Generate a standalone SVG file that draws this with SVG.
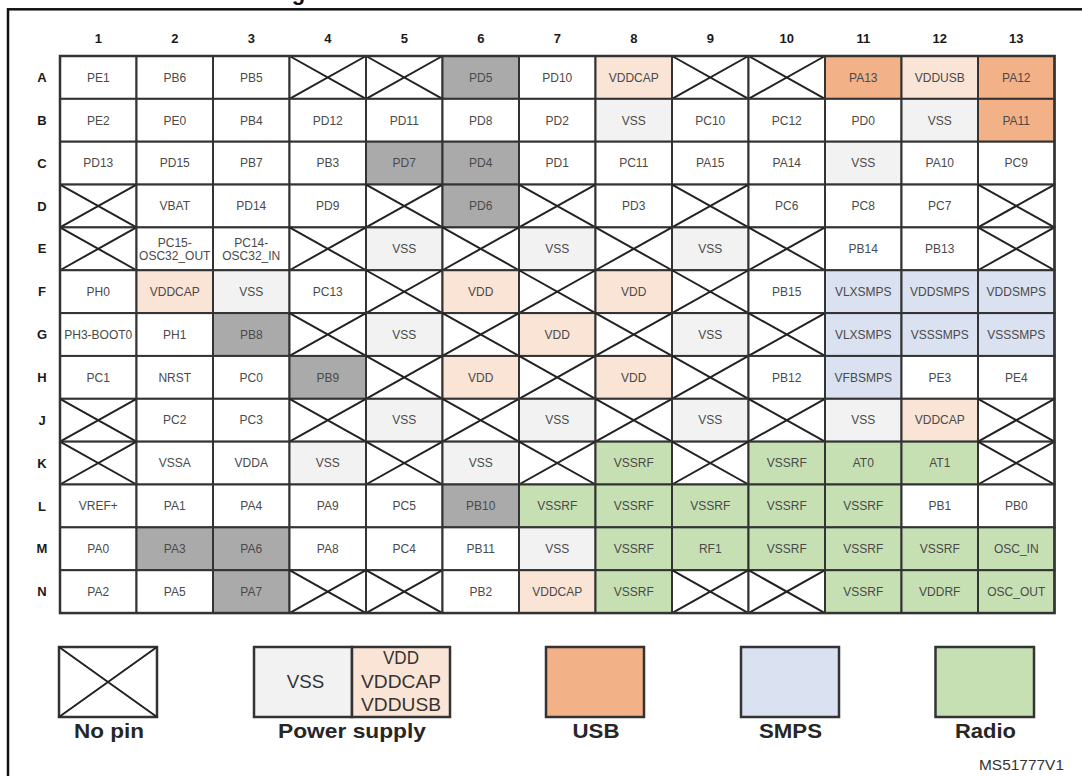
<svg xmlns="http://www.w3.org/2000/svg" xmlns:xlink="http://www.w3.org/1999/xlink" width="1082" height="776" viewBox="0 0 1082 776">
<style>
text{font-family:"Liberation Sans",Arial,sans-serif}
.cell rect{stroke:#333;stroke-width:2}
.cell text{font-size:12px;fill:#4a4a4a;text-anchor:middle}
.w{fill:#fff}.g{fill:#f2f2f2}.p{fill:#fae4d6}.u{fill:#f3b187}.s{fill:#dae1f0}.r{fill:#c6e0b4}.d{fill:#aaaaaa}
.xl{stroke:#222;stroke-width:2;fill:none}
.hd{font-size:13px;font-weight:bold;fill:#1a1a1a;text-anchor:middle}
.lg rect{stroke:#333;stroke-width:2.5}
.lgl{font-size:21px;font-weight:bold;fill:#262626;text-anchor:middle}
.lgt{font-size:17.5px;fill:#333;text-anchor:middle}
</style>
<defs>
<g id="xc"><rect class="w" width="76.5" height="42.85" style="stroke:#333;stroke-width:2"/><path class="xl" d="M0,0L76.5,42.85M76.5,0L0,42.85"/></g>
</defs>
<rect x="0" y="0" width="1082" height="776" fill="#fff"/>
<text x="298.5" y="-0.5" font-size="22" font-weight="bold" text-anchor="middle" fill="#111">g</text>
<rect x="8" y="9.3" width="1100" height="800" fill="none" stroke="#111" stroke-width="2.5"/>
<g id="headers">
<text class="hd" x="98.25" y="43">1</text><text class="hd" x="174.75" y="43">2</text><text class="hd" x="251.25" y="43">3</text><text class="hd" x="327.75" y="43">4</text><text class="hd" x="404.25" y="43">5</text><text class="hd" x="480.75" y="43">6</text><text class="hd" x="557.25" y="43">7</text><text class="hd" x="633.75" y="43">8</text><text class="hd" x="710.25" y="43">9</text><text class="hd" x="786.75" y="43">10</text><text class="hd" x="863.25" y="43">11</text><text class="hd" x="939.75" y="43">12</text><text class="hd" x="1016.25" y="43">13</text>
<text class="hd" x="42" y="82">A</text><text class="hd" x="42" y="124.9">B</text><text class="hd" x="42" y="167.7">C</text><text class="hd" x="42" y="210.6">D</text><text class="hd" x="42" y="253.4">E</text><text class="hd" x="42" y="296.3">F</text><text class="hd" x="42" y="339.1">G</text><text class="hd" x="42" y="382">H</text><text class="hd" x="42" y="424.8">J</text><text class="hd" x="42" y="467.7">K</text><text class="hd" x="42" y="510.5">L</text><text class="hd" x="42" y="553.4">M</text><text class="hd" x="42" y="596.2">N</text>
</g>
<g id="rowA">
<g id="A1" class="cell" transform="translate(60,56)"><rect class="w" width="76.5" height="42.85"/><text x="38.25" y="25.7">PE1</text></g>
<g id="A2" class="cell" transform="translate(136.5,56)"><rect class="w" width="76.5" height="42.85"/><text x="38.25" y="25.7">PB6</text></g>
<g id="A3" class="cell" transform="translate(213,56)"><rect class="w" width="76.5" height="42.85"/><text x="38.25" y="25.7">PB5</text></g>
<g id="A4" class="cell" transform="translate(289.5,56)"><use href="#xc"/></g>
<g id="A5" class="cell" transform="translate(366,56)"><use href="#xc"/></g>
<g id="A6" class="cell" transform="translate(442.5,56)"><rect class="d" width="76.5" height="42.85"/><text x="38.25" y="25.7">PD5</text></g>
<g id="A7" class="cell" transform="translate(519,56)"><rect class="w" width="76.5" height="42.85"/><text x="38.25" y="25.7">PD10</text></g>
<g id="A8" class="cell" transform="translate(595.5,56)"><rect class="p" width="76.5" height="42.85"/><text x="38.25" y="25.7">VDDCAP</text></g>
<g id="A9" class="cell" transform="translate(672,56)"><use href="#xc"/></g>
<g id="A10" class="cell" transform="translate(748.5,56)"><use href="#xc"/></g>
<g id="A11" class="cell" transform="translate(825,56)"><rect class="u" width="76.5" height="42.85"/><text x="38.25" y="25.7">PA13</text></g>
<g id="A12" class="cell" transform="translate(901.5,56)"><rect class="p" width="76.5" height="42.85"/><text x="38.25" y="25.7">VDDUSB</text></g>
<g id="A13" class="cell" transform="translate(978,56)"><rect class="u" width="76.5" height="42.85"/><text x="38.25" y="25.7">PA12</text></g>
</g>
<g id="rowB">
<g id="B1" class="cell" transform="translate(60,98.85)"><rect class="w" width="76.5" height="42.85"/><text x="38.25" y="25.7">PE2</text></g>
<g id="B2" class="cell" transform="translate(136.5,98.85)"><rect class="w" width="76.5" height="42.85"/><text x="38.25" y="25.7">PE0</text></g>
<g id="B3" class="cell" transform="translate(213,98.85)"><rect class="w" width="76.5" height="42.85"/><text x="38.25" y="25.7">PB4</text></g>
<g id="B4" class="cell" transform="translate(289.5,98.85)"><rect class="w" width="76.5" height="42.85"/><text x="38.25" y="25.7">PD12</text></g>
<g id="B5" class="cell" transform="translate(366,98.85)"><rect class="w" width="76.5" height="42.85"/><text x="38.25" y="25.7">PD11</text></g>
<g id="B6" class="cell" transform="translate(442.5,98.85)"><rect class="w" width="76.5" height="42.85"/><text x="38.25" y="25.7">PD8</text></g>
<g id="B7" class="cell" transform="translate(519,98.85)"><rect class="w" width="76.5" height="42.85"/><text x="38.25" y="25.7">PD2</text></g>
<g id="B8" class="cell" transform="translate(595.5,98.85)"><rect class="g" width="76.5" height="42.85"/><text x="38.25" y="25.7">VSS</text></g>
<g id="B9" class="cell" transform="translate(672,98.85)"><rect class="w" width="76.5" height="42.85"/><text x="38.25" y="25.7">PC10</text></g>
<g id="B10" class="cell" transform="translate(748.5,98.85)"><rect class="w" width="76.5" height="42.85"/><text x="38.25" y="25.7">PC12</text></g>
<g id="B11" class="cell" transform="translate(825,98.85)"><rect class="w" width="76.5" height="42.85"/><text x="38.25" y="25.7">PD0</text></g>
<g id="B12" class="cell" transform="translate(901.5,98.85)"><rect class="g" width="76.5" height="42.85"/><text x="38.25" y="25.7">VSS</text></g>
<g id="B13" class="cell" transform="translate(978,98.85)"><rect class="u" width="76.5" height="42.85"/><text x="38.25" y="25.7">PA11</text></g>
</g>
<g id="rowC">
<g id="C1" class="cell" transform="translate(60,141.7)"><rect class="w" width="76.5" height="42.85"/><text x="38.25" y="25.7">PD13</text></g>
<g id="C2" class="cell" transform="translate(136.5,141.7)"><rect class="w" width="76.5" height="42.85"/><text x="38.25" y="25.7">PD15</text></g>
<g id="C3" class="cell" transform="translate(213,141.7)"><rect class="w" width="76.5" height="42.85"/><text x="38.25" y="25.7">PB7</text></g>
<g id="C4" class="cell" transform="translate(289.5,141.7)"><rect class="w" width="76.5" height="42.85"/><text x="38.25" y="25.7">PB3</text></g>
<g id="C5" class="cell" transform="translate(366,141.7)"><rect class="d" width="76.5" height="42.85"/><text x="38.25" y="25.7">PD7</text></g>
<g id="C6" class="cell" transform="translate(442.5,141.7)"><rect class="d" width="76.5" height="42.85"/><text x="38.25" y="25.7">PD4</text></g>
<g id="C7" class="cell" transform="translate(519,141.7)"><rect class="w" width="76.5" height="42.85"/><text x="38.25" y="25.7">PD1</text></g>
<g id="C8" class="cell" transform="translate(595.5,141.7)"><rect class="w" width="76.5" height="42.85"/><text x="38.25" y="25.7">PC11</text></g>
<g id="C9" class="cell" transform="translate(672,141.7)"><rect class="w" width="76.5" height="42.85"/><text x="38.25" y="25.7">PA15</text></g>
<g id="C10" class="cell" transform="translate(748.5,141.7)"><rect class="w" width="76.5" height="42.85"/><text x="38.25" y="25.7">PA14</text></g>
<g id="C11" class="cell" transform="translate(825,141.7)"><rect class="g" width="76.5" height="42.85"/><text x="38.25" y="25.7">VSS</text></g>
<g id="C12" class="cell" transform="translate(901.5,141.7)"><rect class="w" width="76.5" height="42.85"/><text x="38.25" y="25.7">PA10</text></g>
<g id="C13" class="cell" transform="translate(978,141.7)"><rect class="w" width="76.5" height="42.85"/><text x="38.25" y="25.7">PC9</text></g>
</g>
<g id="rowD">
<g id="D1" class="cell" transform="translate(60,184.55)"><use href="#xc"/></g>
<g id="D2" class="cell" transform="translate(136.5,184.55)"><rect class="w" width="76.5" height="42.85"/><text x="38.25" y="25.7">VBAT</text></g>
<g id="D3" class="cell" transform="translate(213,184.55)"><rect class="w" width="76.5" height="42.85"/><text x="38.25" y="25.7">PD14</text></g>
<g id="D4" class="cell" transform="translate(289.5,184.55)"><rect class="w" width="76.5" height="42.85"/><text x="38.25" y="25.7">PD9</text></g>
<g id="D5" class="cell" transform="translate(366,184.55)"><use href="#xc"/></g>
<g id="D6" class="cell" transform="translate(442.5,184.55)"><rect class="d" width="76.5" height="42.85"/><text x="38.25" y="25.7">PD6</text></g>
<g id="D7" class="cell" transform="translate(519,184.55)"><use href="#xc"/></g>
<g id="D8" class="cell" transform="translate(595.5,184.55)"><rect class="w" width="76.5" height="42.85"/><text x="38.25" y="25.7">PD3</text></g>
<g id="D9" class="cell" transform="translate(672,184.55)"><use href="#xc"/></g>
<g id="D10" class="cell" transform="translate(748.5,184.55)"><rect class="w" width="76.5" height="42.85"/><text x="38.25" y="25.7">PC6</text></g>
<g id="D11" class="cell" transform="translate(825,184.55)"><rect class="w" width="76.5" height="42.85"/><text x="38.25" y="25.7">PC8</text></g>
<g id="D12" class="cell" transform="translate(901.5,184.55)"><rect class="w" width="76.5" height="42.85"/><text x="38.25" y="25.7">PC7</text></g>
<g id="D13" class="cell" transform="translate(978,184.55)"><use href="#xc"/></g>
</g>
<g id="rowE">
<g id="E1" class="cell" transform="translate(60,227.4)"><use href="#xc"/></g>
<g id="E2" class="cell" transform="translate(136.5,227.4)"><rect class="w" width="76.5" height="42.85"/><text x="38.25" y="19.3">PC15-</text><text x="38.25" y="32.3">OSC32_OUT</text></g>
<g id="E3" class="cell" transform="translate(213,227.4)"><rect class="w" width="76.5" height="42.85"/><text x="38.25" y="19.3">PC14-</text><text x="38.25" y="32.3">OSC32_IN</text></g>
<g id="E4" class="cell" transform="translate(289.5,227.4)"><use href="#xc"/></g>
<g id="E5" class="cell" transform="translate(366,227.4)"><rect class="g" width="76.5" height="42.85"/><text x="38.25" y="25.7">VSS</text></g>
<g id="E6" class="cell" transform="translate(442.5,227.4)"><use href="#xc"/></g>
<g id="E7" class="cell" transform="translate(519,227.4)"><rect class="g" width="76.5" height="42.85"/><text x="38.25" y="25.7">VSS</text></g>
<g id="E8" class="cell" transform="translate(595.5,227.4)"><use href="#xc"/></g>
<g id="E9" class="cell" transform="translate(672,227.4)"><rect class="g" width="76.5" height="42.85"/><text x="38.25" y="25.7">VSS</text></g>
<g id="E10" class="cell" transform="translate(748.5,227.4)"><use href="#xc"/></g>
<g id="E11" class="cell" transform="translate(825,227.4)"><rect class="w" width="76.5" height="42.85"/><text x="38.25" y="25.7">PB14</text></g>
<g id="E12" class="cell" transform="translate(901.5,227.4)"><rect class="w" width="76.5" height="42.85"/><text x="38.25" y="25.7">PB13</text></g>
<g id="E13" class="cell" transform="translate(978,227.4)"><use href="#xc"/></g>
</g>
<g id="rowF">
<g id="F1" class="cell" transform="translate(60,270.25)"><rect class="w" width="76.5" height="42.85"/><text x="38.25" y="25.7">PH0</text></g>
<g id="F2" class="cell" transform="translate(136.5,270.25)"><rect class="p" width="76.5" height="42.85"/><text x="38.25" y="25.7">VDDCAP</text></g>
<g id="F3" class="cell" transform="translate(213,270.25)"><rect class="g" width="76.5" height="42.85"/><text x="38.25" y="25.7">VSS</text></g>
<g id="F4" class="cell" transform="translate(289.5,270.25)"><rect class="w" width="76.5" height="42.85"/><text x="38.25" y="25.7">PC13</text></g>
<g id="F5" class="cell" transform="translate(366,270.25)"><use href="#xc"/></g>
<g id="F6" class="cell" transform="translate(442.5,270.25)"><rect class="p" width="76.5" height="42.85"/><text x="38.25" y="25.7">VDD</text></g>
<g id="F7" class="cell" transform="translate(519,270.25)"><use href="#xc"/></g>
<g id="F8" class="cell" transform="translate(595.5,270.25)"><rect class="p" width="76.5" height="42.85"/><text x="38.25" y="25.7">VDD</text></g>
<g id="F9" class="cell" transform="translate(672,270.25)"><use href="#xc"/></g>
<g id="F10" class="cell" transform="translate(748.5,270.25)"><rect class="w" width="76.5" height="42.85"/><text x="38.25" y="25.7">PB15</text></g>
<g id="F11" class="cell" transform="translate(825,270.25)"><rect class="s" width="76.5" height="42.85"/><text x="38.25" y="25.7">VLXSMPS</text></g>
<g id="F12" class="cell" transform="translate(901.5,270.25)"><rect class="s" width="76.5" height="42.85"/><text x="38.25" y="25.7">VDDSMPS</text></g>
<g id="F13" class="cell" transform="translate(978,270.25)"><rect class="s" width="76.5" height="42.85"/><text x="38.25" y="25.7">VDDSMPS</text></g>
</g>
<g id="rowG">
<g id="G1" class="cell" transform="translate(60,313.1)"><rect class="w" width="76.5" height="42.85"/><text x="38.25" y="25.7">PH3-BOOT0</text></g>
<g id="G2" class="cell" transform="translate(136.5,313.1)"><rect class="w" width="76.5" height="42.85"/><text x="38.25" y="25.7">PH1</text></g>
<g id="G3" class="cell" transform="translate(213,313.1)"><rect class="d" width="76.5" height="42.85"/><text x="38.25" y="25.7">PB8</text></g>
<g id="G4" class="cell" transform="translate(289.5,313.1)"><use href="#xc"/></g>
<g id="G5" class="cell" transform="translate(366,313.1)"><rect class="g" width="76.5" height="42.85"/><text x="38.25" y="25.7">VSS</text></g>
<g id="G6" class="cell" transform="translate(442.5,313.1)"><use href="#xc"/></g>
<g id="G7" class="cell" transform="translate(519,313.1)"><rect class="p" width="76.5" height="42.85"/><text x="38.25" y="25.7">VDD</text></g>
<g id="G8" class="cell" transform="translate(595.5,313.1)"><use href="#xc"/></g>
<g id="G9" class="cell" transform="translate(672,313.1)"><rect class="g" width="76.5" height="42.85"/><text x="38.25" y="25.7">VSS</text></g>
<g id="G10" class="cell" transform="translate(748.5,313.1)"><use href="#xc"/></g>
<g id="G11" class="cell" transform="translate(825,313.1)"><rect class="s" width="76.5" height="42.85"/><text x="38.25" y="25.7">VLXSMPS</text></g>
<g id="G12" class="cell" transform="translate(901.5,313.1)"><rect class="s" width="76.5" height="42.85"/><text x="38.25" y="25.7">VSSSMPS</text></g>
<g id="G13" class="cell" transform="translate(978,313.1)"><rect class="s" width="76.5" height="42.85"/><text x="38.25" y="25.7">VSSSMPS</text></g>
</g>
<g id="rowH">
<g id="H1" class="cell" transform="translate(60,355.95)"><rect class="w" width="76.5" height="42.85"/><text x="38.25" y="25.7">PC1</text></g>
<g id="H2" class="cell" transform="translate(136.5,355.95)"><rect class="w" width="76.5" height="42.85"/><text x="38.25" y="25.7">NRST</text></g>
<g id="H3" class="cell" transform="translate(213,355.95)"><rect class="w" width="76.5" height="42.85"/><text x="38.25" y="25.7">PC0</text></g>
<g id="H4" class="cell" transform="translate(289.5,355.95)"><rect class="d" width="76.5" height="42.85"/><text x="38.25" y="25.7">PB9</text></g>
<g id="H5" class="cell" transform="translate(366,355.95)"><use href="#xc"/></g>
<g id="H6" class="cell" transform="translate(442.5,355.95)"><rect class="p" width="76.5" height="42.85"/><text x="38.25" y="25.7">VDD</text></g>
<g id="H7" class="cell" transform="translate(519,355.95)"><use href="#xc"/></g>
<g id="H8" class="cell" transform="translate(595.5,355.95)"><rect class="p" width="76.5" height="42.85"/><text x="38.25" y="25.7">VDD</text></g>
<g id="H9" class="cell" transform="translate(672,355.95)"><use href="#xc"/></g>
<g id="H10" class="cell" transform="translate(748.5,355.95)"><rect class="w" width="76.5" height="42.85"/><text x="38.25" y="25.7">PB12</text></g>
<g id="H11" class="cell" transform="translate(825,355.95)"><rect class="s" width="76.5" height="42.85"/><text x="38.25" y="25.7">VFBSMPS</text></g>
<g id="H12" class="cell" transform="translate(901.5,355.95)"><rect class="w" width="76.5" height="42.85"/><text x="38.25" y="25.7">PE3</text></g>
<g id="H13" class="cell" transform="translate(978,355.95)"><rect class="w" width="76.5" height="42.85"/><text x="38.25" y="25.7">PE4</text></g>
</g>
<g id="rowJ">
<g id="J1" class="cell" transform="translate(60,398.8)"><use href="#xc"/></g>
<g id="J2" class="cell" transform="translate(136.5,398.8)"><rect class="w" width="76.5" height="42.85"/><text x="38.25" y="25.7">PC2</text></g>
<g id="J3" class="cell" transform="translate(213,398.8)"><rect class="w" width="76.5" height="42.85"/><text x="38.25" y="25.7">PC3</text></g>
<g id="J4" class="cell" transform="translate(289.5,398.8)"><use href="#xc"/></g>
<g id="J5" class="cell" transform="translate(366,398.8)"><rect class="g" width="76.5" height="42.85"/><text x="38.25" y="25.7">VSS</text></g>
<g id="J6" class="cell" transform="translate(442.5,398.8)"><use href="#xc"/></g>
<g id="J7" class="cell" transform="translate(519,398.8)"><rect class="g" width="76.5" height="42.85"/><text x="38.25" y="25.7">VSS</text></g>
<g id="J8" class="cell" transform="translate(595.5,398.8)"><use href="#xc"/></g>
<g id="J9" class="cell" transform="translate(672,398.8)"><rect class="g" width="76.5" height="42.85"/><text x="38.25" y="25.7">VSS</text></g>
<g id="J10" class="cell" transform="translate(748.5,398.8)"><use href="#xc"/></g>
<g id="J11" class="cell" transform="translate(825,398.8)"><rect class="g" width="76.5" height="42.85"/><text x="38.25" y="25.7">VSS</text></g>
<g id="J12" class="cell" transform="translate(901.5,398.8)"><rect class="p" width="76.5" height="42.85"/><text x="38.25" y="25.7">VDDCAP</text></g>
<g id="J13" class="cell" transform="translate(978,398.8)"><use href="#xc"/></g>
</g>
<g id="rowK">
<g id="K1" class="cell" transform="translate(60,441.65)"><use href="#xc"/></g>
<g id="K2" class="cell" transform="translate(136.5,441.65)"><rect class="w" width="76.5" height="42.85"/><text x="38.25" y="25.7">VSSA</text></g>
<g id="K3" class="cell" transform="translate(213,441.65)"><rect class="w" width="76.5" height="42.85"/><text x="38.25" y="25.7">VDDA</text></g>
<g id="K4" class="cell" transform="translate(289.5,441.65)"><rect class="g" width="76.5" height="42.85"/><text x="38.25" y="25.7">VSS</text></g>
<g id="K5" class="cell" transform="translate(366,441.65)"><use href="#xc"/></g>
<g id="K6" class="cell" transform="translate(442.5,441.65)"><rect class="g" width="76.5" height="42.85"/><text x="38.25" y="25.7">VSS</text></g>
<g id="K7" class="cell" transform="translate(519,441.65)"><use href="#xc"/></g>
<g id="K8" class="cell" transform="translate(595.5,441.65)"><rect class="r" width="76.5" height="42.85"/><text x="38.25" y="25.7">VSSRF</text></g>
<g id="K9" class="cell" transform="translate(672,441.65)"><use href="#xc"/></g>
<g id="K10" class="cell" transform="translate(748.5,441.65)"><rect class="r" width="76.5" height="42.85"/><text x="38.25" y="25.7">VSSRF</text></g>
<g id="K11" class="cell" transform="translate(825,441.65)"><rect class="r" width="76.5" height="42.85"/><text x="38.25" y="25.7">AT0</text></g>
<g id="K12" class="cell" transform="translate(901.5,441.65)"><rect class="r" width="76.5" height="42.85"/><text x="38.25" y="25.7">AT1</text></g>
<g id="K13" class="cell" transform="translate(978,441.65)"><use href="#xc"/></g>
</g>
<g id="rowL">
<g id="L1" class="cell" transform="translate(60,484.5)"><rect class="w" width="76.5" height="42.85"/><text x="38.25" y="25.7">VREF+</text></g>
<g id="L2" class="cell" transform="translate(136.5,484.5)"><rect class="w" width="76.5" height="42.85"/><text x="38.25" y="25.7">PA1</text></g>
<g id="L3" class="cell" transform="translate(213,484.5)"><rect class="w" width="76.5" height="42.85"/><text x="38.25" y="25.7">PA4</text></g>
<g id="L4" class="cell" transform="translate(289.5,484.5)"><rect class="w" width="76.5" height="42.85"/><text x="38.25" y="25.7">PA9</text></g>
<g id="L5" class="cell" transform="translate(366,484.5)"><rect class="w" width="76.5" height="42.85"/><text x="38.25" y="25.7">PC5</text></g>
<g id="L6" class="cell" transform="translate(442.5,484.5)"><rect class="d" width="76.5" height="42.85"/><text x="38.25" y="25.7">PB10</text></g>
<g id="L7" class="cell" transform="translate(519,484.5)"><rect class="r" width="76.5" height="42.85"/><text x="38.25" y="25.7">VSSRF</text></g>
<g id="L8" class="cell" transform="translate(595.5,484.5)"><rect class="r" width="76.5" height="42.85"/><text x="38.25" y="25.7">VSSRF</text></g>
<g id="L9" class="cell" transform="translate(672,484.5)"><rect class="r" width="76.5" height="42.85"/><text x="38.25" y="25.7">VSSRF</text></g>
<g id="L10" class="cell" transform="translate(748.5,484.5)"><rect class="r" width="76.5" height="42.85"/><text x="38.25" y="25.7">VSSRF</text></g>
<g id="L11" class="cell" transform="translate(825,484.5)"><rect class="r" width="76.5" height="42.85"/><text x="38.25" y="25.7">VSSRF</text></g>
<g id="L12" class="cell" transform="translate(901.5,484.5)"><rect class="w" width="76.5" height="42.85"/><text x="38.25" y="25.7">PB1</text></g>
<g id="L13" class="cell" transform="translate(978,484.5)"><rect class="w" width="76.5" height="42.85"/><text x="38.25" y="25.7">PB0</text></g>
</g>
<g id="rowM">
<g id="M1" class="cell" transform="translate(60,527.35)"><rect class="w" width="76.5" height="42.85"/><text x="38.25" y="25.7">PA0</text></g>
<g id="M2" class="cell" transform="translate(136.5,527.35)"><rect class="d" width="76.5" height="42.85"/><text x="38.25" y="25.7">PA3</text></g>
<g id="M3" class="cell" transform="translate(213,527.35)"><rect class="d" width="76.5" height="42.85"/><text x="38.25" y="25.7">PA6</text></g>
<g id="M4" class="cell" transform="translate(289.5,527.35)"><rect class="w" width="76.5" height="42.85"/><text x="38.25" y="25.7">PA8</text></g>
<g id="M5" class="cell" transform="translate(366,527.35)"><rect class="w" width="76.5" height="42.85"/><text x="38.25" y="25.7">PC4</text></g>
<g id="M6" class="cell" transform="translate(442.5,527.35)"><rect class="w" width="76.5" height="42.85"/><text x="38.25" y="25.7">PB11</text></g>
<g id="M7" class="cell" transform="translate(519,527.35)"><rect class="g" width="76.5" height="42.85"/><text x="38.25" y="25.7">VSS</text></g>
<g id="M8" class="cell" transform="translate(595.5,527.35)"><rect class="r" width="76.5" height="42.85"/><text x="38.25" y="25.7">VSSRF</text></g>
<g id="M9" class="cell" transform="translate(672,527.35)"><rect class="r" width="76.5" height="42.85"/><text x="38.25" y="25.7">RF1</text></g>
<g id="M10" class="cell" transform="translate(748.5,527.35)"><rect class="r" width="76.5" height="42.85"/><text x="38.25" y="25.7">VSSRF</text></g>
<g id="M11" class="cell" transform="translate(825,527.35)"><rect class="r" width="76.5" height="42.85"/><text x="38.25" y="25.7">VSSRF</text></g>
<g id="M12" class="cell" transform="translate(901.5,527.35)"><rect class="r" width="76.5" height="42.85"/><text x="38.25" y="25.7">VSSRF</text></g>
<g id="M13" class="cell" transform="translate(978,527.35)"><rect class="r" width="76.5" height="42.85"/><text x="38.25" y="25.7">OSC_IN</text></g>
</g>
<g id="rowN">
<g id="N1" class="cell" transform="translate(60,570.2)"><rect class="w" width="76.5" height="42.85"/><text x="38.25" y="25.7">PA2</text></g>
<g id="N2" class="cell" transform="translate(136.5,570.2)"><rect class="w" width="76.5" height="42.85"/><text x="38.25" y="25.7">PA5</text></g>
<g id="N3" class="cell" transform="translate(213,570.2)"><rect class="d" width="76.5" height="42.85"/><text x="38.25" y="25.7">PA7</text></g>
<g id="N4" class="cell" transform="translate(289.5,570.2)"><use href="#xc"/></g>
<g id="N5" class="cell" transform="translate(366,570.2)"><use href="#xc"/></g>
<g id="N6" class="cell" transform="translate(442.5,570.2)"><rect class="w" width="76.5" height="42.85"/><text x="38.25" y="25.7">PB2</text></g>
<g id="N7" class="cell" transform="translate(519,570.2)"><rect class="p" width="76.5" height="42.85"/><text x="38.25" y="25.7">VDDCAP</text></g>
<g id="N8" class="cell" transform="translate(595.5,570.2)"><rect class="r" width="76.5" height="42.85"/><text x="38.25" y="25.7">VSSRF</text></g>
<g id="N9" class="cell" transform="translate(672,570.2)"><use href="#xc"/></g>
<g id="N10" class="cell" transform="translate(748.5,570.2)"><use href="#xc"/></g>
<g id="N11" class="cell" transform="translate(825,570.2)"><rect class="r" width="76.5" height="42.85"/><text x="38.25" y="25.7">VSSRF</text></g>
<g id="N12" class="cell" transform="translate(901.5,570.2)"><rect class="r" width="76.5" height="42.85"/><text x="38.25" y="25.7">VDDRF</text></g>
<g id="N13" class="cell" transform="translate(978,570.2)"><rect class="r" width="76.5" height="42.85"/><text x="38.25" y="25.7">OSC_OUT</text></g>
</g>
<rect id="gridframe" x="60" y="56" width="994.5" height="557.05" fill="none" stroke="#333" stroke-width="2.5"/>
<g id="connectors"></g>
<g id="legend" class="lg">
<g id="lg-nopin"><rect class="w" x="59" y="647" width="98" height="70"/><path class="xl" d="M59,647L157,717M157,647L59,717"/><text class="lgl" x="109" y="738" textLength="70" lengthAdjust="spacingAndGlyphs">No pin</text></g>
<g id="lg-power"><rect class="g" x="254" y="647" width="98" height="70"/><rect class="p" x="352" y="647" width="98" height="70"/><text class="lgt" x="305.5" y="688" textLength="37.5" lengthAdjust="spacingAndGlyphs">VSS</text><text class="lgt" x="401" y="664" textLength="36" lengthAdjust="spacingAndGlyphs">VDD</text><text class="lgt" x="401" y="688" textLength="80" lengthAdjust="spacingAndGlyphs">VDDCAP</text><text class="lgt" x="401" y="711" textLength="80" lengthAdjust="spacingAndGlyphs">VDDUSB</text><text class="lgl" x="352" y="738" textLength="148" lengthAdjust="spacingAndGlyphs">Power supply</text></g>
<g id="lg-usb"><rect class="u" x="546" y="647" width="98" height="70"/><text class="lgl" x="596" y="738" textLength="47" lengthAdjust="spacingAndGlyphs">USB</text></g>
<g id="lg-smps"><rect class="s" x="741" y="647" width="98" height="70"/><text class="lgl" x="790.5" y="738" textLength="63" lengthAdjust="spacingAndGlyphs">SMPS</text></g>
<g id="lg-radio"><rect class="r" x="935.5" y="647" width="98.5" height="70"/><text class="lgl" x="985.5" y="738" textLength="61" lengthAdjust="spacingAndGlyphs">Radio</text></g>
</g>
<text x="1021.5" y="770" font-size="15.5" fill="#333" text-anchor="middle" textLength="85" lengthAdjust="spacingAndGlyphs">MS51777V1</text>
</svg>
